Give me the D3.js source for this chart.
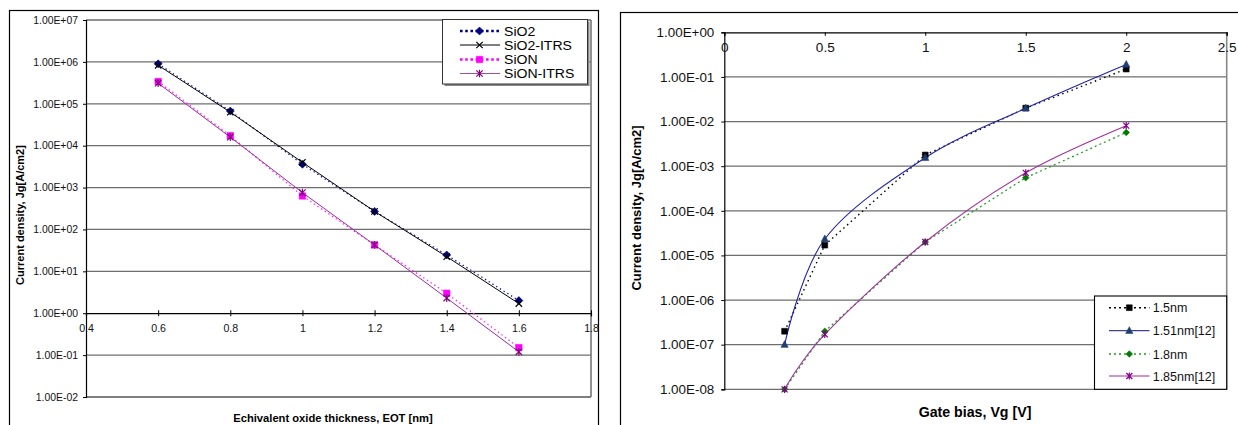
<!DOCTYPE html>
<html>
<head>
<meta charset="utf-8">
<script src="https://cdn.jsdelivr.net/npm/d3@7"></script>
<style>
  html, body { margin: 0; padding: 0; background: #fff; }
  svg { display: block; font-family: "Liberation Sans", Arial, sans-serif; }
</style>
</head>
<body>
<svg id="chart" width="1238" height="425"></svg>
<script>
// ---------- Left panel: current density vs. equivalent oxide thickness ----------
const eotValues = [0.6, 0.8, 1.0, 1.2, 1.4, 1.6];
const sio2 = [9.0e5, 6.7e4, 3.6e3, 2.7e2, 24.6, 2.0];
const sio2Itrs = [8.3e5, 6.3e4, 4.0e3, 2.7e2, 22.4, 1.7];
const sion = [3.4e5, 1.73e4, 630, 42.7, 3.0, 0.151];
const sionItrs = [3.1e5, 1.6e4, 757, 42.7, 2.3, 0.12];
const leftSeriesNames = ["SiO2", "SiO2-ITRS", "SiON", "SiON-ITRS"];
const leftXTicks = [0.4, 0.6, 0.8, 1.0, 1.2, 1.4, 1.6, 1.8];
const leftXTickLabels = ["0.4", "0.6", "0.8", "1", "1.2", "1.4", "1.6", "1.8"];
const leftYTicks = [1e-2, 1e-1, 1e0, 1e1, 1e2, 1e3, 1e4, 1e5, 1e6, 1e7];
const leftYTickLabels = ["1.00E-02", "1.00E-01", "1.00E+00", "1.00E+01", "1.00E+02",
                         "1.00E+03", "1.00E+04", "1.00E+05", "1.00E+06", "1.00E+07"];
const leftXTitle = "Echivalent oxide thickness, EOT [nm]";
const leftYTitle = "Current density, Jg[A/cm2]";

// ---------- Right panel: current density vs. gate bias ----------
const gateBias = [0.3, 0.5, 1.0, 1.5, 2.0];
const jg150 = [2.0e-7, 1.7e-5, 1.78e-3, 2.0e-2, 0.15];
const jg151 = [1.0e-7, 2.33e-5, 1.55e-3, 1.98e-2, 0.19];
const jg180 = [1.0e-8, 2.0e-7, 2.0e-5, 5.5e-4, 5.7e-3];
const jg185 = [1.0e-8, 1.7e-7, 2.0e-5, 7.1e-4, 8.1e-3];
const rightSeriesNames = ["1.5nm", "1.51nm[12]", "1.8nm", "1.85nm[12]"];
const rightXTicks = [0, 0.5, 1, 1.5, 2, 2.5];
const rightXTickLabels = ["0", "0.5", "1", "1.5", "2", "2.5"];
const rightYTicks = [1e-8, 1e-7, 1e-6, 1e-5, 1e-4, 1e-3, 1e-2, 1e-1, 1e0];
const rightYTickLabels = ["1.00E-08", "1.00E-07", "1.00E-06", "1.00E-05", "1.00E-04",
                          "1.00E-03", "1.00E-02", "1.00E-01", "1.00E+00"];
const rightXTitle = "Gate bias, Vg [V]";
const rightYTitle = "Current density, Jg[A/cm2]";

const svg = d3.select("#chart");
const FONT = '"Liberation Sans", Arial, sans-serif';

// marker shapes
function markerPath(kind, s) {
  const p = d3.path();
  if (kind === "diamond") {
    p.moveTo(0, -s); p.lineTo(s, 0); p.lineTo(0, s); p.lineTo(-s, 0); p.closePath();
  } else if (kind === "square") {
    p.rect(-s, -s, 2 * s, 2 * s);
  } else if (kind === "triangle") {
    p.moveTo(0, -s * 1.1); p.lineTo(s, s * 0.75); p.lineTo(-s, s * 0.75); p.closePath();
  } else if (kind === "x") {
    p.moveTo(-s, -s); p.lineTo(s, s); p.moveTo(s, -s); p.lineTo(-s, s);
  } else if (kind === "star") {
    p.moveTo(-s, -s); p.lineTo(s, s); p.moveTo(s, -s); p.lineTo(-s, s);
    p.moveTo(0, -s * 1.2); p.lineTo(0, s * 1.2);
  }
  return p.toString();
}
function drawMarker(g, kind, x, y, s, color) {
  const stroked = kind === "x" || kind === "star";
  g.append("path")
    .attr("d", markerPath(kind, s))
    .attr("transform", `translate(${x},${y})`)
    .attr("fill", stroked ? "none" : color)
    .attr("stroke", color)
    .attr("stroke-width", stroked ? 1.2 : 0.6);
}

// ================= LEFT PANEL =================
{
  const g = svg.append("g");
  // outer frame
  g.append("rect").attr("x", 9.5).attr("y", 10.5).attr("width", 589).attr("height", 430)
    .attr("fill", "none").attr("stroke", "#000").attr("stroke-width", 1.2);

  const x = d3.scaleLinear().domain([0.4, 1.8]).range([86, 591]);
  const y = d3.scaleLog().domain([1e-2, 1e7]).range([397, 20]);

  // horizontal gridlines
  g.append("g").selectAll("line")
    .data(leftYTicks.filter(v => v !== 1e0 && v !== 1e-2 && v !== 1e7))
    .join("line")
    .attr("x1", x(0.4)).attr("x2", x(1.8))
    .attr("y1", d => y(d)).attr("y2", d => y(d))
    .attr("stroke", "#6e6e6e").attr("stroke-width", 1.2);

  // plot frame: top, bottom, right
  g.append("line").attr("x1", x(0.4)).attr("x2", x(1.8)).attr("y1", y(1e7)).attr("y2", y(1e7))
    .attr("stroke", "#222").attr("stroke-width", 1.2);
  g.append("line").attr("x1", x(0.4)).attr("x2", x(1.8)).attr("y1", y(1e-2)).attr("y2", y(1e-2))
    .attr("stroke", "#000").attr("stroke-width", 1.2);
  g.append("line").attr("x1", x(1.8)).attr("x2", x(1.8)).attr("y1", y(1e7)).attr("y2", y(1e-2))
    .attr("stroke", "#777").attr("stroke-width", 1.6);

  // y axis
  const yAxis = d3.axisLeft(y).tickValues(leftYTicks)
    .tickFormat((d, i) => leftYTickLabels[i]).tickSize(3).tickPadding(5);
  const ya = g.append("g").attr("transform", `translate(${x(0.4)},0)`).call(yAxis);
  ya.select(".domain").attr("stroke", "#000").attr("stroke-width", 1.2);
  ya.selectAll("text").attr("font-family", FONT).attr("font-size", 10.4).attr("fill", "#111");

  // x axis crossing at 1.00E+00
  const xAxis = d3.axisBottom(x).tickValues(leftXTicks)
    .tickFormat((d, i) => leftXTickLabels[i]).tickSize(3).tickPadding(8);
  const xa = g.append("g").attr("transform", `translate(0,${y(1)})`).call(xAxis);
  xa.select(".domain").attr("stroke", "#000").attr("stroke-width", 1.2);
  xa.selectAll(".tick line").attr("y1", -3).attr("y2", 3);
  xa.selectAll("text").attr("font-family", FONT).attr("font-size", 10.6).attr("fill", "#111");

  // series
  const series = [
    { name: leftSeriesNames[0], values: sio2, color: "#000080", line: "#1a1a90", dash: "1.4,3", width: 1.3, marker: "diamond", ms: 4 },
    { name: leftSeriesNames[1], values: sio2Itrs, color: "#000", line: "#000", dash: null, width: 1, marker: "x", ms: 3.2 },
    { name: leftSeriesNames[2], values: sion, color: "#ff00ff", line: "#ff22ff", dash: "1.4,3", width: 1.3, marker: "square", ms: 3.2 },
    { name: leftSeriesNames[3], values: sionItrs, color: "#800080", line: "#9a2a9a", dash: null, width: 1, marker: "star", ms: 3.2 }
  ];
  const line = d3.line().x((d, i) => x(eotValues[i])).y(d => y(d));
  series.forEach(s => {
    g.append("path").attr("d", line(s.values)).attr("fill", "none")
      .attr("stroke", s.line).attr("stroke-width", s.width)
      .attr("stroke-dasharray", s.dash);
  });
  series.forEach(s => {
    s.values.forEach((v, i) => drawMarker(g, s.marker, x(eotValues[i]), y(v), s.ms, s.color));
  });

  // legend
  const lg = g.append("g");
  lg.append("rect").attr("x", 444.5).attr("y", 21.5).attr("width", 145).attr("height", 64.5)
    .attr("fill", "#888");
  lg.append("rect").attr("x", 442.5).attr("y", 19.5).attr("width", 145).attr("height", 64.5)
    .attr("fill", "#fff").attr("stroke", "#333").attr("stroke-width", 1);
  const rowsY = [31, 45, 59.5, 73.5];
  series.forEach((s, i) => {
    const yy = rowsY[i];
    lg.append("line").attr("x1", 460).attr("x2", 500).attr("y1", yy).attr("y2", yy)
      .attr("stroke", s.dash ? s.color : (i === 3 ? "#a050a0" : s.color))
      .attr("stroke-width", s.dash ? 2.6 : 1.1)
      .attr("stroke-dasharray", s.dash ? "2.6,2.6" : null);
    drawMarker(lg, s.marker, 479.5, yy, s.ms, s.color);
    lg.append("text").attr("transform", `translate(504,${yy}) scale(1.1,1)`)
      .attr("dy", "0.36em")
      .attr("font-family", FONT).attr("font-size", 12.8).attr("fill", "#000").text(s.name);
  });

  // titles
  g.append("text").attr("transform", `translate(20,215) rotate(-90)`)
    .attr("text-anchor", "middle").attr("dy", "0.35em")
    .attr("font-family", FONT).attr("font-weight", "bold").attr("font-size", 11)
    .text(leftYTitle);
  g.append("text").attr("x", 333).attr("y", 418).attr("dy", "0.35em")
    .attr("text-anchor", "middle")
    .attr("font-family", FONT).attr("font-weight", "bold").attr("font-size", 11.2)
    .text(leftXTitle);
}

// ================= RIGHT PANEL =================
{
  const g = svg.append("g");
  g.append("rect").attr("x", 620.5).attr("y", 12.5).attr("width", 640).attr("height", 430)
    .attr("fill", "none").attr("stroke", "#000").attr("stroke-width", 1.2);

  const x = d3.scaleLinear().domain([0, 2.5]).range([724.3, 1226.7]);
  const y = d3.scaleLog().domain([1e-8, 1]).range([389.3, 32.3]);

  // gridlines
  g.append("g").selectAll("line")
    .data(rightYTicks.filter(v => v !== 1e0))
    .join("line")
    .attr("x1", x(0)).attr("x2", x(2.5))
    .attr("y1", d => y(d)).attr("y2", d => y(d))
    .attr("stroke", "#6e6e6e").attr("stroke-width", 1.2);
  g.append("line").attr("x1", x(2.5)).attr("x2", x(2.5)).attr("y1", y(1)).attr("y2", y(1e-8))
    .attr("stroke", "#888").attr("stroke-width", 1.6);

  // y axis
  const yAxis = d3.axisLeft(y).tickValues(rightYTicks)
    .tickFormat((d, i) => rightYTickLabels[i]).tickSize(3).tickPadding(7);
  const ya = g.append("g").attr("transform", `translate(${x(0)},0)`).call(yAxis);
  ya.select(".domain").attr("stroke", "#000").attr("stroke-width", 1.2);
  ya.selectAll("text").attr("font-family", FONT).attr("font-size", 13.4).attr("fill", "#111");

  // x axis along the top (crossing at 1.00E+00), labels below it
  const xAxis = d3.axisBottom(x).tickValues(rightXTicks)
    .tickFormat((d, i) => rightXTickLabels[i]).tickSize(3.5).tickPadding(7);
  const xa = g.append("g").attr("transform", `translate(0,${y(1)})`).call(xAxis);
  xa.select(".domain").attr("stroke", "#000").attr("stroke-width", 1.2);
  xa.selectAll("text").attr("font-family", FONT).attr("font-size", 13.6).attr("fill", "#111");

  const series = [
    { name: rightSeriesNames[0], values: jg150, color: "#000", line: "#000", dash: "1.5,3.5", width: 1.4, marker: "square", ms: 2.9, curve: d3.curveLinear },
    { name: rightSeriesNames[1], values: jg151, color: "#1f3f70", line: "#2323a8", dash: null, width: 1.1, marker: "triangle", ms: 3.6, curve: d3.curveCardinal.tension(0) },
    { name: rightSeriesNames[2], values: jg180, color: "#007a00", line: "#1a9a1a", dash: "2,3", width: 1.2, marker: "diamond", ms: 3.3, curve: d3.curveLinear },
    { name: rightSeriesNames[3], values: jg185, color: "#800080", line: "#a030a0", dash: null, width: 1.1, marker: "star", ms: 3, curve: d3.curveCardinal.tension(0) }
  ];
  series.forEach(s => {
    const line = d3.line().x((d, i) => x(gateBias[i])).y(d => y(d)).curve(s.curve);
    g.append("path").attr("d", line(s.values)).attr("fill", "none")
      .attr("stroke", s.line).attr("stroke-width", s.width)
      .attr("stroke-dasharray", s.dash);
  });
  series.forEach(s => {
    s.values.forEach((v, i) => drawMarker(g, s.marker, x(gateBias[i]), y(v), s.ms, s.color));
  });

  // legend
  const lg = g.append("g");
  lg.append("rect").attr("x", 1094.5).attr("y", 296).attr("width", 132.2).attr("height", 93.3)
    .attr("fill", "#fff").attr("stroke", "#000").attr("stroke-width", 1.1);
  const rowsY = [307.7, 330.7, 354, 376];
  const legendLine = ["#000", "#404090", "#1a9a1a", "#c070c0"];
  series.forEach((s, i) => {
    const yy = rowsY[i];
    lg.append("line").attr("x1", 1109).attr("x2", 1149.5).attr("y1", yy).attr("y2", yy)
      .attr("stroke", legendLine[i]).attr("stroke-width", s.dash ? 1.6 : 1.3)
      .attr("stroke-dasharray", s.dash ? "2,3" : null);
    drawMarker(lg, s.marker, 1129.3, yy, s.ms, s.color);
    lg.append("text").attr("x", 1152.7).attr("y", yy).attr("dy", "0.36em")
      .attr("font-family", FONT).attr("font-size", 12.5).attr("fill", "#111").text(s.name);
  });

  // titles
  g.append("text").attr("transform", `translate(636.5,208) rotate(-90)`)
    .attr("text-anchor", "middle").attr("dy", "0.35em")
    .attr("font-family", FONT).attr("font-weight", "bold").attr("font-size", 13)
    .text(rightYTitle);
  g.append("text").attr("x", 975).attr("y", 411.7).attr("dy", "0.35em")
    .attr("text-anchor", "middle")
    .attr("font-family", FONT).attr("font-weight", "bold").attr("font-size", 14.2)
    .text(rightXTitle);
}
</script>
</body>
</html>
